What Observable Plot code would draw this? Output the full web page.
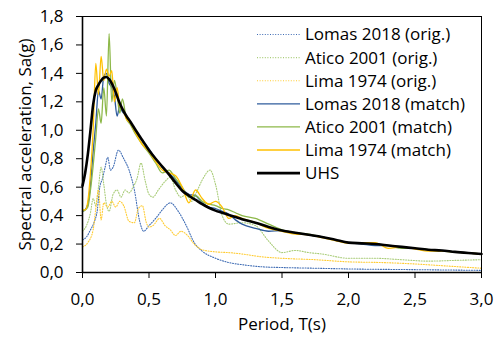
<!DOCTYPE html>
<html><head><meta charset="utf-8">
<script src="https://cdn.jsdelivr.net/npm/d3@7"></script>
<script src="https://cdn.jsdelivr.net/npm/@observablehq/plot@0.6"></script>
<style>body{margin:0;background:#fff;} svg{display:block;}</style>
</head><body><div id="chart"></div>
<script>
// Periods (s) shared by matched records and UHS
const periodsMatch = [0,0.02,0.04,0.06,0.08,0.1,0.12,0.14,0.16,0.18,0.2,0.22,0.24,0.26,0.28,0.3,0.33,0.36,0.4,0.45,0.5,0.55,0.6,0.65,0.7,0.75,0.8,0.85,0.9,0.95,1.0,1.05,1.1,1.15,1.2,1.3,1.4,1.5,1.6,1.7,1.8,1.9,2.0,2.1,2.2,2.3,2.4,2.5,2.6,2.7,2.8,2.9,3.0];
const uhs = [0.61,0.70,0.83,1.0,1.18,1.28,1.32,1.35,1.37,1.375,1.36,1.33,1.29,1.24,1.19,1.15,1.10,1.06,1.0,0.93,0.86,0.80,0.745,0.69,0.63,0.575,0.54,0.51,0.48,0.455,0.435,0.42,0.405,0.39,0.375,0.35,0.32,0.295,0.28,0.265,0.25,0.23,0.21,0.205,0.20,0.19,0.18,0.17,0.16,0.155,0.145,0.137,0.13];
const lomasMatch = [0.43,0.44,0.48,0.62,0.85,1.05,1.28,1.22,1.38,1.40,1.33,1.30,1.24,1.10,1.17,1.13,1.10,1.05,0.98,0.93,0.87,0.80,0.74,0.70,0.65,0.59,0.55,0.54,0.49,0.46,0.45,0.43,0.41,0.37,0.34,0.31,0.29,0.295,0.28,0.265,0.25,0.23,0.21,0.20,0.19,0.19,0.18,0.17,0.16,0.155,0.145,0.137,0.13];
const aticoMatch = [0.43,0.44,0.46,0.58,0.75,0.95,1.15,1.05,1.30,1.10,1.68,1.20,1.35,1.25,1.12,1.22,1.08,1.04,0.97,0.90,0.84,0.77,0.70,0.72,0.66,0.60,0.53,0.54,0.50,0.48,0.47,0.45,0.44,0.42,0.40,0.38,0.34,0.30,0.28,0.27,0.25,0.23,0.21,0.21,0.20,0.19,0.17,0.17,0.16,0.15,0.145,0.137,0.13];
const limaMatch = [0.44,0.44,0.50,0.70,1.00,1.47,1.25,1.52,1.35,1.43,1.38,1.42,1.20,1.30,1.17,1.15,1.08,1.05,0.98,0.90,0.85,0.78,0.72,0.70,0.68,0.60,0.49,0.58,0.52,0.48,0.50,0.46,0.38,0.40,0.38,0.35,0.31,0.29,0.27,0.265,0.245,0.225,0.205,0.21,0.21,0.17,0.18,0.165,0.15,0.15,0.145,0.137,0.13];

// Original (unscaled) records
const lomasOrigT = [0,0.03,0.06,0.09,0.11,0.13,0.15,0.17,0.19,0.21,0.23,0.27,0.31,0.35,0.39,0.43,0.46,0.5,0.55,0.6,0.66,0.72,0.78,0.84,0.9,1.0,1.1,1.2,1.35,1.5,1.75,2.0,2.5,3.0];
const lomasOrig = [0.23,0.25,0.30,0.36,0.43,0.60,0.66,0.74,0.81,0.72,0.74,0.86,0.80,0.72,0.58,0.36,0.29,0.33,0.38,0.44,0.49,0.43,0.33,0.21,0.15,0.10,0.07,0.055,0.04,0.035,0.03,0.025,0.02,0.015];
const aticoOrigT = [0,0.03,0.06,0.08,0.1,0.12,0.14,0.16,0.18,0.2,0.23,0.26,0.29,0.32,0.35,0.38,0.41,0.44,0.47,0.5,0.53,0.57,0.62,0.66,0.7,0.74,0.78,0.82,0.86,0.9,0.96,1.0,1.05,1.1,1.2,1.3,1.4,1.5,1.6,1.7,1.8,2.0,2.2,2.4,2.6,2.8,3.0];
const aticoOrig = [0.29,0.33,0.42,0.52,0.47,0.60,0.74,0.62,0.48,0.43,0.55,0.58,0.53,0.58,0.56,0.60,0.66,0.77,0.65,0.55,0.53,0.58,0.64,0.67,0.58,0.53,0.55,0.50,0.57,0.65,0.72,0.62,0.40,0.34,0.35,0.33,0.22,0.14,0.155,0.14,0.13,0.10,0.10,0.09,0.08,0.085,0.09];
const limaOrigT = [0,0.04,0.08,0.1,0.12,0.14,0.16,0.19,0.22,0.25,0.28,0.31,0.35,0.39,0.42,0.45,0.48,0.5,0.53,0.58,0.62,0.66,0.7,0.74,0.79,0.84,0.9,1.0,1.1,1.2,1.35,1.5,1.75,2.0,2.25,2.5,2.75,3.0];
const limaOrig = [0.18,0.21,0.30,0.45,0.58,0.37,0.49,0.46,0.50,0.46,0.50,0.47,0.36,0.35,0.45,0.47,0.35,0.32,0.33,0.38,0.33,0.30,0.26,0.29,0.26,0.20,0.16,0.145,0.14,0.13,0.11,0.10,0.09,0.075,0.07,0.06,0.045,0.03];

const xTicks = [0,0.5,1.0,1.5,2.0,2.5,3.0];
const yTicks = [0,0.2,0.4,0.6,0.8,1.0,1.2,1.4,1.6,1.8];
const xLabel = "Period, T(s)";
const yLabel = "Spectral acceleration, Sa(g)";

const seriesNames = ["Lomas 2018 (orig.)","Atico 2001 (orig.)","Lima 1974 (orig.)","Lomas 2018 (match)","Atico 2001 (match)","Lima 1974 (match)","UHS"];
const seriesColors = ["#3f6cb4","#a9cc78","#ffcc33","#2f5c9c","#8db849","#ffc000","#000000"];
const seriesDotted = [true,true,true,false,false,false,false];
const seriesWidth = [1.1,1.1,1.1,1.3,1.3,1.3,2.6];

const seriesT = [lomasOrigT,aticoOrigT,limaOrigT,periodsMatch,periodsMatch,periodsMatch,periodsMatch];
const seriesV = [lomasOrig,aticoOrig,limaOrig,lomasMatch,aticoMatch,limaMatch,uhs];

const fmt = d => d.toFixed(1).replace(".", ",");
const FONT = "Open Sans";
const DOTS = "1,1.6";

const marks = seriesNames.map((name, i) => {
  const data = seriesT[i].map((t, j) => ({T: t, Sa: seriesV[i][j]}));
  return Plot.line(data, {x: "T", y: "Sa", stroke: seriesColors[i], strokeWidth: seriesWidth[i],
    strokeDasharray: seriesDotted[i] ? DOTS : null, curve: "monotone-x"});
});

const plot = Plot.plot({
  width: 499, height: 338,
  marginLeft: 82, marginRight: 18, marginTop: 16, marginBottom: 66,
  style: {fontFamily: FONT, fontSize: "17px", color: "#000", background: "#fff"},
  x: {domain: [0, 3], ticks: xTicks, tickFormat: fmt, tickSize: 6, tickPadding: 14, label: null},
  y: {domain: [0, 1.8], ticks: yTicks, tickFormat: fmt, tickSize: 6, tickPadding: 13, label: null},
  marks: [
    ...marks,
    Plot.frame({stroke: "#000", strokeWidth: 1}),
    Plot.ruleX([0], {stroke: "#000", strokeWidth: 1.6}),
    Plot.ruleY([0], {stroke: "#000", strokeWidth: 1.6}),
    Plot.text([xLabel], {frameAnchor: "bottom", dy: 52, lineAnchor: "middle", fontSize: 17, fill: "#000"}),
    Plot.text([yLabel], {frameAnchor: "left", dx: -57, rotate: -90, lineAnchor: "middle", textAnchor: "middle", fontSize: 17, fill: "#000"})
  ]
});

// Legend inside plot, top-right
const svg = d3.select(plot);
const lg = svg.append("g").attr("font-family", FONT).attr("font-size", 17).attr("text-anchor", "start");
seriesNames.forEach((name, i) => {
  const cy = 34.5 + i * 23.1;
  lg.append("line").attr("x1", 257).attr("x2", 300).attr("y1", cy).attr("y2", cy)
    .attr("stroke", seriesColors[i]).attr("stroke-width", seriesWidth[i])
    .attr("stroke-dasharray", seriesDotted[i] ? DOTS : null);
  lg.append("text").attr("x", 305).attr("y", cy).attr("dy", "0.35em").attr("fill", "#000").text(name);
});

document.getElementById("chart").appendChild(plot);
</script>
</body></html>
